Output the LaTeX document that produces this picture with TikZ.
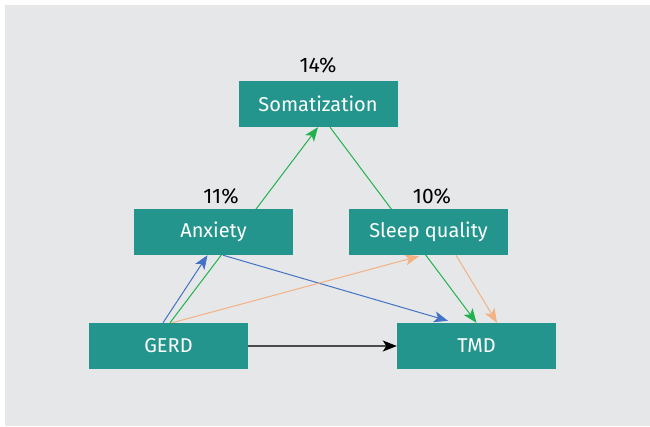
\documentclass[tikz,border=0pt]{standalone}
\usepackage{fontspec}
\setmainfont{Fira Sans}
\usetikzlibrary{arrows.meta,calc,backgrounds}
\definecolor{boxteal}{HTML}{23958D}
\definecolor{panelgray}{HTML}{E6E7E9}
\definecolor{pathgreen}{HTML}{22B14C}
\definecolor{pathblue}{HTML}{4472C4}
\definecolor{pathorange}{HTML}{F4B183}
\begin{document}
	\begin{tikzpicture}[x=1pt,y=-1pt,
		var/.style={fill=boxteal, text=white, minimum width=159pt, minimum height=46pt, inner sep=0pt, font=\fontsize{20}{20}\selectfont},
		pct/.style={font=\fontsize{21}{21}\selectfont},
		path/.style={line width=1pt, -{Stealth[length=14pt,width=11pt,inset=3.5pt]}}]
		\useasboundingbox (0,0) rectangle (650,426);
		%
		\node[var] (soma) at (318,104) {Somatization};
		\node[var] (anx) at (213.5,232) {Anxiety};
		\node[var] (sleep) at (428.5,232) {Sleep quality};
		\node[var] (gerd) at (168.5,346) {GERD};
		\node[var] (tmd) at (476.5,346) {TMD};
		%
		\node[pct] (p14) at (318,65) {14\%};
		\node[pct] (p11) at (221,196) {11\%};
		\node[pct] (p10) at (432,196) {10\%};
		%
		\begin{scope}[on background layer]
			\fill[panelgray] (5,5) rectangle (650,426);
			\draw[path, pathgreen] ($(gerd.north)+(1.5,0)$) -- (soma.south);
			\draw[path, pathgreen] ($(soma.south)+(12,0)$) -- (tmd.north);
			\draw[path, pathblue] ($(gerd.north)+(-5.5,0)$) -- ($(anx.south)+(-6,0)$);
			\draw[path, pathblue] ($(anx.south)+(9.5,0)$) -- ($(tmd.north)+(-28.5,-2)$);
			\draw[path, pathorange] ($(gerd.north)+(3.5,0)$) -- ($(sleep.south)+(-9.5,1)$);
			\draw[path, pathorange] ($(sleep.south)+(27.5,0)$) -- ($(tmd.north)+(20.5,0)$);
		\end{scope}
		\draw[line width=1.6pt, draw=black!70, -{Stealth[length=14pt,width=11pt,inset=3.5pt,color=black]}] (gerd) -- (tmd);
	\end{tikzpicture}
\end{document}
